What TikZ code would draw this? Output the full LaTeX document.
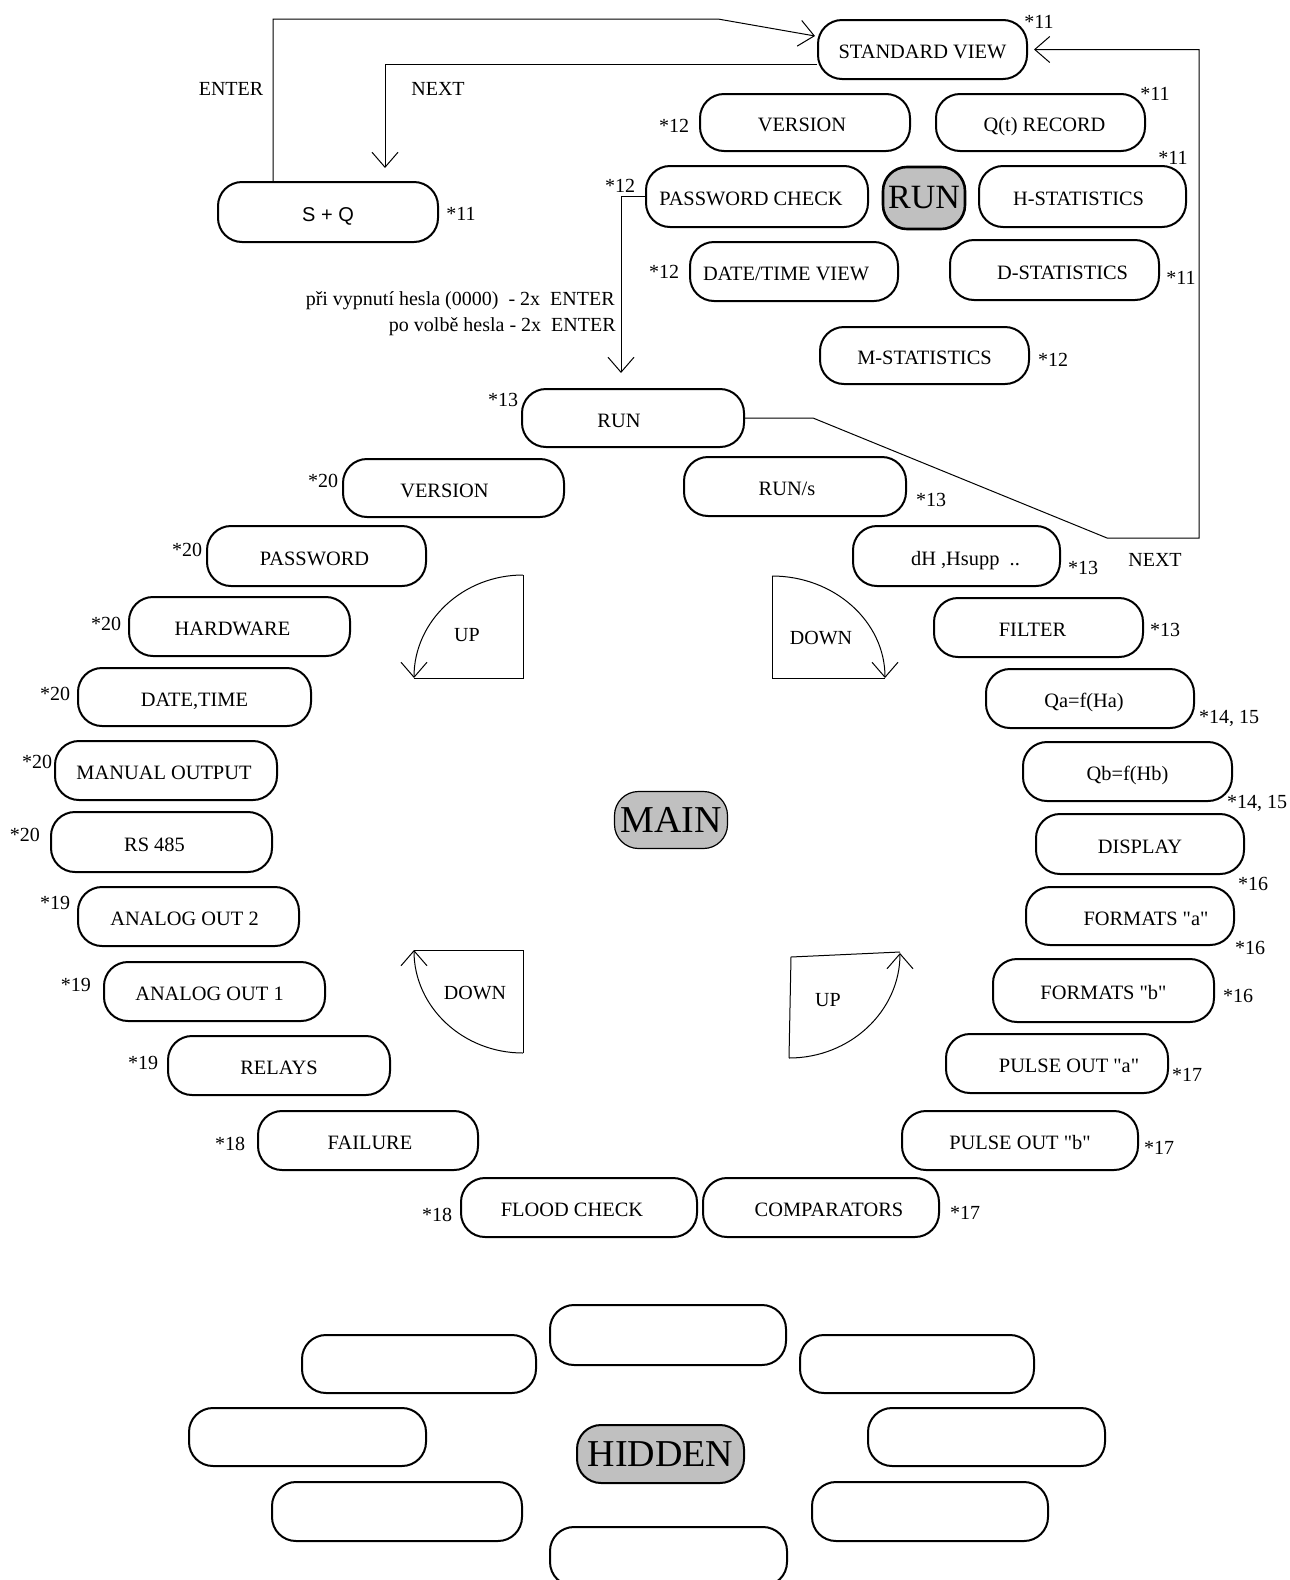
\documentclass[tikz,border=0pt]{standalone}
\usepackage{fontspec}
\setmainfont{Liberation Serif}
\newfontfamily\arialfont{Liberation Sans}
\usetikzlibrary{arrows.meta,calc}
\definecolor{boxgrey}{RGB}{192,192,192}
\newcommand\dq{\textquotedbl}
\newcommand\Ls[1]{\hspace*{#1pt}}
\begin{document}
\begin{tikzpicture}[x=0.5pt,y=-0.5pt,
  box/.style={draw, line width=1pt, rounded corners=12pt, inner sep=0pt, text height=9pt, text depth=0pt, font=\fontsize{10.2}{12}\selectfont},
  sz/.style 2 args={minimum width=#1*0.5pt, minimum height=#2*0.5pt},
  gbox/.style={draw, rounded corners=12pt, inner sep=0pt, fill=boxgrey},
  star/.style={inner sep=0pt, text height=7.2pt, text depth=0pt, font=\fontsize{10}{12}\selectfont},
  conn/.style={line width=0.5pt},
  tip/.style={-{Straight Barb[length=7.5pt,width=13pt,line width=0.5pt]}}]
\useasboundingbox (0,0) rectangle (1290,1580);
\clip (0,0) rectangle (1290,1580);

% ---------- RUN group ----------
\node[box, sz={209}{59}] (stdview) at (922.5,49.5) {STANDARD VIEW};
\node[box, sz={210}{57}] (ver1) at (805,122.5) {VERSION\Ls{3}};
\node[box, sz={209}{57}] (qrec) at (1040.5,122.5) {\Ls{4}Q(t) RECORD};
\node[box, sz={222}{61}] (pwchk) at (757,196.5) {PASSWORD CHECK\Ls{6}};
\node[gbox, line width=1.3pt, sz={82}{62}, font=\fontsize{17}{19}\selectfont] (run1) at (924,198) {RUN};
\node[box, sz={207}{61}] (hstat) at (1082.5,196.5) {H-STATISTICS\Ls{4}};
\node[box, sz={208}{59}] (dtv) at (794,271.5) {DATE/TIME VIEW\Ls{8}};
\node[box, sz={209}{60}] (dstat) at (1054.5,270) {\Ls{8}D-STATISTICS};
\node[box, sz={209}{57}] (mstat) at (924.5,355.5) {M-STATISTICS};
\node[box, sz={220}{60}, font=\arialfont\fontsize{10}{12}\selectfont] (sq) at (328,212) {S + Q};

\node[star] (s1) at (1039,21) {*11};
\node[star] (s2) at (1155,93) {*11};
\node[star] (s3) at (1173,157) {*11};
\node[star] (s4) at (1181,277) {*11};
\node[star] (s5) at (1053,359) {*12};
\node[star] (s6) at (674,125) {*12};
\node[star] (s7) at (620,185) {*12};
\node[star] (s8) at (664,271) {*12};
\node[star] (s9) at (461,213) {*11};
\node[star] (lenter) at (231,88) {ENTER};
\node[star] (lnext1) at (438,88) {NEXT};
\node[star, anchor=east] (ltxt1) at (615,298) {při vypnutí hesla (0000)\ \ - 2x\ \ ENTER};
\node[star, anchor=east] (ltxt2) at (616,324) {po volbě hesla - 2x\ \ ENTER};

% ---------- MAIN group ----------
\node[box, sz={222}{58}] (run2) at (633,418) {RUN\Ls{14}};
\node[box, sz={221}{58}] (ver2) at (453.5,488) {VERSION\Ls{9}};
\node[box, sz={222}{59}] (runs) at (795,486.5) {RUN/s\Ls{8}};
\node[box, sz={219}{60}] (pw) at (316.5,556) {PASSWORD\Ls{2}};
\node[box, sz={207}{60}] (dh) at (956.5,556) {\Ls{9}dH ,Hsupp\ \ ..};
\node[box, sz={221}{59}] (hw) at (239.5,626.5) {HARDWARE\Ls{7}};
\node[box, sz={209}{59}] (filt) at (1038.5,627.5) {FILTER\Ls{6}};
\node[box, sz={233}{58}] (dt) at (194.5,697) {DATE,TIME};
\node[box, sz={208}{59}] (qa) at (1090,698.5) {Qa=f(Ha)\Ls{6}};
\node[box, sz={222}{59}] (man) at (166,770.5) {MANUAL OUTPUT\Ls{2}};
\node[box, sz={209}{59}] (qb) at (1127.5,771.5) {Qb=f(Hb)};
\node[box, sz={221}{60}] (rs) at (161.5,842) {RS 485\Ls{7}};
\node[box, sz={208}{60}] (disp) at (1140,844) {DISPLAY};
\node[box, sz={221}{59}] (ao2) at (188.5,916.5) {ANALOG OUT 2\Ls{4}};
\node[box, sz={208}{58}] (fa) at (1130,916) {\Ls{16}FORMATS \dq a\dq};
\node[box, sz={221}{59}] (ao1) at (214.5,991.5) {ANALOG OUT 1\Ls{5}};
\node[box, sz={221}{63}] (fb) at (1103.5,990.5) {FORMATS \dq b\dq};
\node[box, sz={222}{59}] (rel) at (279,1065.5) {RELAYS};
\node[box, sz={222}{59}] (pa) at (1057,1063.5) {\Ls{12}PULSE OUT \dq a\dq};
\node[box, sz={220}{59}] (fail) at (368,1140.5) {\Ls{2}FAILURE};
\node[box, sz={236}{59}] (pb) at (1020,1140.5) {PULSE OUT \dq b\dq};
\node[box, sz={236}{59}] (flood) at (579,1207.5) {FLOOD CHECK\Ls{7}};
\node[box, sz={236}{59}] (comp) at (821,1207.5) {\Ls{8}COMPARATORS};
\node[gbox, line width=0.6pt, sz={113}{57}, font=\fontsize{19}{21}\selectfont] (main) at (671,820) {MAIN};

\node[star] (t1) at (503,399) {*13};
\node[star] (t2) at (323,480) {*20};
\node[star] (t3) at (931,499) {*13};
\node[star] (t4) at (187,549) {*20};
\node[star] (t5) at (1083,567) {*13};
\node[star] (lnext2) at (1155,559) {NEXT};
\node[star] (t6) at (106,623) {*20};
\node[star] (t7) at (1165,629) {*13};
\node[star] (t8) at (55,693) {*20};
\node[star] (t9) at (1229,716) {*14, 15};
\node[star] (t10) at (37,761) {*20};
\node[star] (t11) at (1257,801) {*14, 15};
\node[star] (t12) at (25,834) {*20};
\node[star] (t13) at (1253,883) {*16};
\node[star] (t14) at (55,902) {*19};
\node[star] (t15) at (1250,947) {*16};
\node[star] (t16) at (76,984) {*19};
\node[star] (t17) at (1238,995) {*16};
\node[star] (t18) at (143,1062) {*19};
\node[star] (t19) at (1187,1074) {*17};
\node[star] (t20) at (230,1143) {*18};
\node[star] (t21) at (1159,1147) {*17};
\node[star] (t22) at (437,1214) {*18};
\node[star] (t23) at (965,1212) {*17};

% ---------- HIDDEN group ----------
\node[gbox, line width=1pt, sz={167}{58}, font=\fontsize{19}{21}\selectfont] (hidden) at (660.5,1454) {HIDDEN};
\node[box, sz={236}{60}] (h1) at (668,1335) {};
\node[box, sz={234}{58}] (h2) at (419,1364) {};
\node[box, sz={234}{58}] (h3) at (917,1364) {};
\node[box, sz={237}{58}] (h4) at (307.5,1437) {};
\node[box, sz={237}{58}] (h5) at (986.5,1437) {};
\node[box, sz={250}{59}] (h6) at (397,1511.5) {};
\node[box, sz={236}{59}] (h7) at (930,1511.5) {};
\node[box, sz={237}{59}] (h8) at (668.5,1556.5) {};

% ---------- connectors ----------
\coordinate (e1) at (718,19);
\draw[conn,tip] ([xshift=-27.5pt]sq.north) |- (e1) -- ([yshift=6.75pt,xshift=-1pt]stdview.west);
\coordinate (n1) at (385,168);
\draw[conn,tip] ([yshift=-7.25pt]stdview.west) -| (n1);
\coordinate (r1) at (813,418);
\coordinate (r2) at (1107,538);
\coordinate (r3) at (1199,538);
\draw[conn,tip] (run2.east) -- (r1) -- (r2) -- (r3) |- ([xshift=3pt]stdview.east);
\coordinate (p1) at (621,373);
\draw[conn,tip] (pwchk.west) -| (p1);

% ---------- quarter-circle arrows ----------
\coordinate (qT1) at (523,575);
\coordinate (qC1) at (523,678);
\coordinate (qL1) at (414,678);
\draw[conn] (qT1) -- (qC1) -- (qL1);
\draw[conn,tip] (qT1) arc[start angle=90,end angle=180,x radius=54.5pt,y radius=51.5pt];
\node[star] (lup1) at (467,634) {UP};

\coordinate (qT2) at (772,576);
\coordinate (qC2) at (772,678);
\coordinate (qR2) at (885,678);
\draw[conn] (qT2) -- (qC2) -- (qR2);
\draw[conn,tip] (qT2) arc[start angle=90,end angle=0,x radius=56.5pt,y radius=51pt];
\node[star] (ldown1) at (821,637) {DOWN};

\coordinate (qL3) at (414,950);
\coordinate (qC3) at (523,950);
\coordinate (qB3) at (523,1053);
\draw[conn] (qL3) -- (qC3) -- (qB3);
\draw[conn,tip] (qB3) arc[start angle=270,end angle=180,x radius=54.5pt,y radius=51.5pt];
\node[star] (ldown2) at (475,992) {DOWN};

\coordinate (qR4) at (900,952);
\coordinate (qC4) at (791,957);
\coordinate (qB4) at (789,1058);
\draw[conn] (qR4) -- (qC4) -- (qB4);
\draw[conn,tip] (qB4) arc[start angle=270,end angle=360,x radius=55.5pt,y radius=52.5pt];
\node[star] (lup2) at (828,999) {UP};
\end{tikzpicture}
\end{document}
